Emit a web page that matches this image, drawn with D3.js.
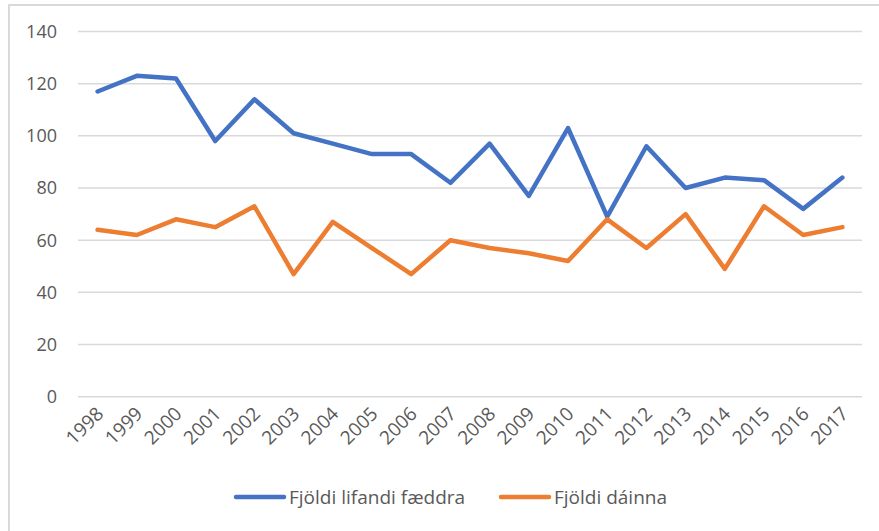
<!DOCTYPE html>
<meta charset="utf-8">
<html>
  <head>
    <script src="https://d3js.org/d3.v7.min.js"></script>
    <style>
      body { margin: 0; background: white; }
      text { font-family: 'Open Sans', sans-serif; fill: #595959; }
    </style>
  </head>
  <body>
  <script>

const years = ['1998','1999','2000','2001','2002','2003','2004','2005','2006','2007',
               '2008','2009','2010','2011','2012','2013','2014','2015','2016','2017'];
const born = [117, 123, 122, 98, 114, 101, 97, 93, 93, 82,
              97, 77, 103, 69, 96, 80, 84, 83, 72, 84];
const died = [64, 62, 68, 65, 73, 47, 67, 57, 47, 60,
              57, 55, 52, 68, 57, 70, 49, 73, 62, 65];
const y_ticks = [0, 20, 40, 60, 80, 100, 120, 140];
const series_names = ['Fjöldi lifandi fæddra', 'Fjöldi dáinna'];
const series_colours = ['#4472C4', '#ED7D31'];

const width = 879, height = 531,
      font_size = 19;

const svg = d3.select('body').append('svg')
  .attr('width', width)
  .attr('height', height);

// chart area border (runs off the picture on the right and bottom)
svg.append('rect')
  .attr('x', 9).attr('y', 5)
  .attr('width', 900).attr('height', 560)
  .attr('fill', 'none')
  .attr('stroke', '#d9d9d9')
  .attr('stroke-width', 2);

const x = d3.scalePoint().domain(years).range([78, 862]).padding(0.5),
      y = d3.scaleLinear().domain([0, 140]).range([396.7, 31.5]);

// gridlines
svg.append('g')
  .selectAll('line')
  .data(y_ticks)
  .join('line')
    .attr('x1', 78).attr('x2', 862)
    .attr('y1', y).attr('y2', y)
    .attr('stroke', '#d9d9d9')
    .attr('stroke-width', 1.5);

// y labels
svg.append('g')
  .selectAll('text')
  .data(y_ticks)
  .join('text')
    .attr('x', 57)
    .attr('y', y)
    .attr('dy', '0.36em')
    .attr('text-anchor', 'end')
    .style('font-size', '18px')
    .text(d => d);

// x labels, rotated
svg.append('g')
  .selectAll('text')
  .data(years)
  .join('text')
    .attr('transform', d => `translate(${x(d) + 7},${415}) rotate(-45)`)
    .attr('text-anchor', 'end')
    .style('font-size', font_size + 'px')
    .text(d => d);

const line = d3.line()
  .x((d, i) => x(years[i]))
  .y(d => y(d));

[born, died].forEach((values, i) => {
  svg.append('path')
    .datum(values)
    .attr('d', line)
    .attr('fill', 'none')
    .attr('stroke', series_colours[i])
    .attr('stroke-width', 4.5)
    .attr('stroke-linejoin', 'round')
    .attr('stroke-linecap', 'round');
});

// legend
const legend_x = [236, 501];
const legend = svg.append('g')
  .selectAll('g')
  .data(series_names)
  .join('g')
    .attr('transform', (d, i) => `translate(${legend_x[i]},497)`);

legend.append('line')
  .attr('x1', 0).attr('x2', 48)
  .attr('stroke', (d, i) => series_colours[i])
  .attr('stroke-width', 4.5)
  .attr('stroke-linecap', 'round');

legend.append('text')
  .attr('x', 53)
  .attr('dy', '0.36em')
  .style('font-size', font_size + 'px')
  .text(d => d);

  </script>
  </body>
</html>
